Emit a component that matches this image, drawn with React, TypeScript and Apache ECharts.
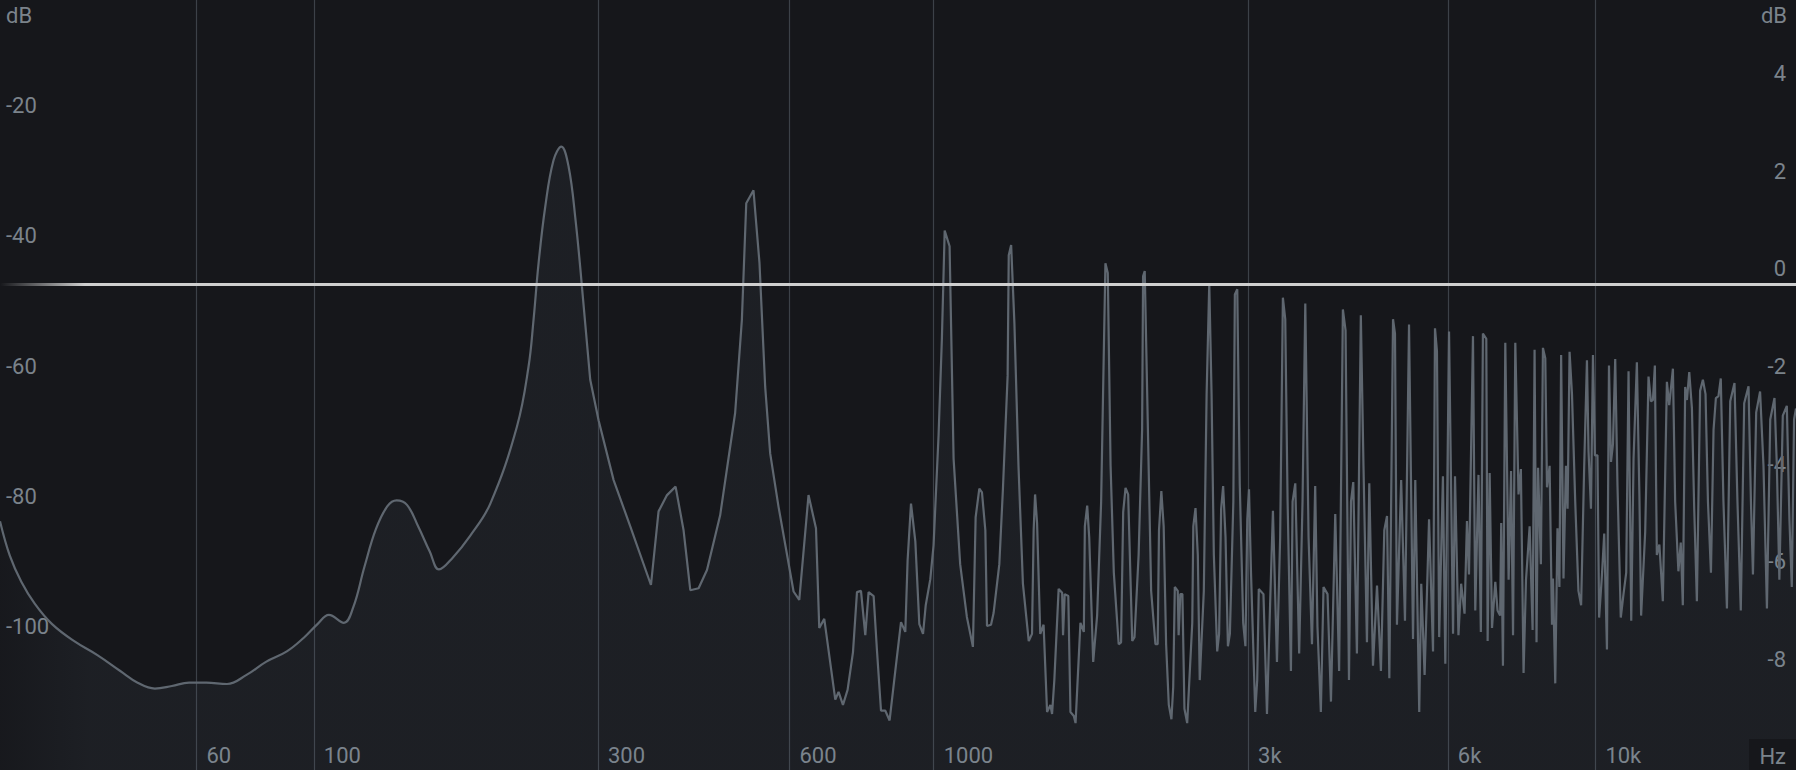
import { useEffect, useRef } from "react"
import * as echarts from "echarts"

// spectrum analyser, frequency axis is log10(f + 20)
const FREQ_OFFSET = 20
const MIN_HZ = 20.6
const MAX_HZ = 20010

// vertical grid lines
const gridHz = [60, 100, 300, 600, 1000, 3000, 6000, 10000]
const gridLabels = ["60", "100", "300", "600", "1000", "3k", "6k", "10k"]

// left axis (spectrum level) and right axis (gain)
const levelTicks = [-100, -80, -60, -40, -20]
const gainTicks = [-8, -6, -4, -2, 0, 2, 4]

// low band, drawn smooth
const lowBandHz = [
  20.6, 22.0, 23.7, 25.8, 28.6, 32.6, 36.9, 41.5, 45.3, 49.3, 53.5, 58.0, 62.8, 68.9, 75.1,
  81.7, 89.3, 95.9, 101.5, 106.4, 113.1, 117.5, 122.9, 128.7, 134.7, 139.7, 145.5, 152.2,
  159.1, 164.8, 173.8, 185.7, 200.7, 221.9, 231.8, 236.2, 240.7, 246.8, 254.5, 262.0, 269.2,
  276.2, 282.8,
]
const lowBandDb = [
  -83.8, -89.1, -93.1, -96.5, -99.6, -102.3, -104.4, -106.8, -108.6, -109.5, -109.1, -108.6,
  -108.6, -108.8, -107.4, -105.4, -103.8, -101.7, -99.6, -98.2, -99.4, -97.0, -90.8, -85.0,
  -81.5, -80.6, -81.3, -84.7, -88.5, -91.2, -89.4, -86.1, -81.1, -69.3, -60.1, -52.9, -44.2,
  -35.5, -28.4, -26.3, -29.4, -37.6, -47.8,
]

// rest of the spectrum, straight segments
const highBandHz = [
  282.8, 291.6, 300.7, 317.8, 337.8, 364.3, 374.5, 386.2, 398.4, 410.1, 420.2, 433, 446.3,
  468.0, 493.9, 506, 514, 527.5, 539, 550.1, 560, 577, 608.8, 621.3, 642.1, 659.4, 667.1,
  679.1, 706.2, 714.5, 725.7, 737.7, 752, 762.7, 773.6, 785.5, 794.7, 809, 818.7, 830.4, 843.2,
  856, 873.4, 891.2, 904.8, 912.2, 923.2, 937.4, 950.7, 963.2, 972.4, 988.2, 999.6, 1017.3,
  1029.4, 1039.5, 1057.6, 1072.6, 1097.7, 1123.9, 1148, 1159, 1174.1, 1185.2, 1199.2, 1206.2,
  1223.3, 1234.4, 1259.5, 1275.6, 1296.7, 1301.8, 1312.8, 1327.9, 1347, 1368.1, 1396.3,
  1412.4, 1420.5, 1427.6, 1437.7, 1453.8, 1470.8, 1488.9, 1506.1, 1515.1, 1527.1, 1550.3,
  1569.4, 1574.4, 1583.5, 1603.6, 1615.7, 1634.8, 1644.8, 1673, 1693, 1699, 1713.1, 1725.2,
  1749.3, 1773.4, 1798.5, 1814.6, 1825.6, 1840.7, 1858.8, 1879.9, 1912.1, 1928.2, 1942.3,
  1958.3, 1976.4, 2004.5, 2020.6, 2049.7, 2074.8, 2081.8, 2093.9, 2112, 2141.2, 2173.4,
  2190.5, 2200.6, 2218.7, 2236.8, 2255.9, 2277.1, 2298.1, 2312.2, 2325.2, 2349.3, 2356.3,
  2370.4, 2387.5, 2404.6, 2427.7, 2470.9, 2479.9, 2499, 2519.1, 2536.1, 2572.3, 2597.4,
  2621.5, 2642.6, 2663.7, 2694.9, 2712.9, 2732, 2751.1, 2774.2, 2797.3, 2816.4, 2850.5,
  2865.5, 2889.6, 2914.7, 2949.8, 2972.9, 2992, 3010, 3031, 3076, 3097, 3114, 3165, 3204,
  3241, 3271, 3317, 3354, 3386, 3414, 3442, 3482, 3502, 3535, 3583, 3625, 3660, 3702, 3746,
  3788, 3818, 3863, 3899, 3954, 4001, 4061, 4116, 4170, 4209, 4259, 4289, 4323, 4378, 4438,
  4479, 4533, 4570, 4629, 4694, 4758, 4814, 4860, 4899, 4962, 4996, 5030, 5104, 5172, 5245,
  5318, 5360, 5434, 5472, 5536, 5622, 5700, 5739, 5778, 5823, 5899, 5948, 6025, 6109, 6151,
  6225, 6283, 6358, 6411, 6456, 6546, 6598, 6672, 6727, 6775, 6855, 6887, 6935, 6992, 7072,
  7127, 7192, 7218, 7262, 7321, 7406, 7468, 7520, 7579, 7664, 7727, 7799, 7865, 7965, 8047,
  8102, 8157, 8201, 8281, 8340, 8408, 8458, 8535, 8605, 8635, 8703, 8770, 8829, 8882, 8955,
  9031, 9082, 9145, 9222, 9326, 9430, 9518, 9620, 9712, 9766, 9848, 9916, 9984, 10072, 10130,
  10226, 10310, 10408, 10481, 10554, 10626, 10710, 10794, 10918, 11021, 11125, 11215, 11320,
  11411, 11543, 11644, 11713, 11880, 12017, 12117, 12201, 12284, 12368, 12477, 12627, 12806,
  12909, 13075, 13177, 13325, 13435, 13531, 13642, 13724, 13835, 13964, 14075, 14205, 14364,
  14503, 14636, 14759, 14913, 15047, 15170, 15304, 15429, 15572, 15760, 15941, 16178, 16344,
  16533, 16729, 16982, 17124, 17243, 17437, 17674, 17883, 18097, 18305, 18576, 18728, 18892,
  19117, 19386, 19560, 19721, 19876, 20010,
]
const highBandDb = [
  -47.8, -62.1, -68.3, -77.5, -84.6, -93.6, -82.3, -79.8, -78.5, -85.2, -94.4, -94.1, -91.3,
  -82.9, -67.2, -52.9, -35.0, -33.0, -44.2, -63.2, -73.4, -81.6, -94.6, -95.9, -79.8, -84.9,
  -100.2, -98.8, -111.2, -110.0, -112.0, -109.7, -103.9, -94.7, -94.5, -101.3, -94.7, -95.3,
  -103.7, -112.9, -112.9, -114.4, -106.8, -99.3, -100.8, -89.8, -81.1, -86.9, -99.6, -101.1,
  -96.7, -92.7, -87.5, -70.7, -55.7, -39.2, -41.6, -74.2, -90.4, -98.5, -103.1, -83.2, -78.8,
  -79.4, -85.2, -99.9, -99.7, -97.9, -90.4, -78.8, -61.5, -43.0, -41.4, -53.4, -75.3, -93.4,
  -102.2, -101.1, -85.2, -79.7, -84.1, -101.1, -99.7, -113.1, -112.0, -113.4, -108.2, -94.2,
  -94.8, -101.3, -95.0, -95.3, -113.1, -113.7, -114.8, -99.4, -100.8, -84.6, -81.4, -86.3,
  -105.4, -98.3, -80.8, -58.8, -44.2, -45.7, -75.3, -91.7, -102.7, -102.4, -82.4, -78.7, -79.7,
  -102.2, -101.6, -89.0, -69.8, -46.2, -45.4, -64.3, -94.5, -102.7, -102.7, -85.2, -79.2,
  -84.6, -102.7, -112.0, -114.2, -109.3, -93.9, -94.5, -101.3, -95.0, -95.0, -112.6, -114.8,
  -99.4, -84.6, -81.8, -89.0, -108.2, -94.5, -64.3, -47.3, -64.3, -89.0, -103.8, -101.1, -81.9,
  -78.4, -86.3, -103.0, -101.1, -80.8, -49.0, -48.2, -78.0, -99.4, -103.0, -83.5, -78.9, -91.7,
  -113.1, -108.2, -94.2, -95.0, -113.4, -95.6, -82.2, -105.4, -86.3, -49.5, -52.8, -80.8,
  -106.8, -80.8, -78.0, -104.1, -80.8, -50.4, -86.3, -102.7, -78.4, -100.0, -113.1, -93.9,
  -95.0, -111.5, -82.7, -106.8, -51.3, -54.5, -108.2, -80.8, -77.8, -104.1, -52.2, -75.3,
  -102.4, -78.0, -106.0, -93.7, -106.8, -85.2, -83.0, -107.9, -52.8, -55.0, -99.7, -77.5,
  -99.1, -53.6, -101.9, -77.5, -113.1, -93.4, -107.4, -83.5, -103.8, -54.2, -57.7, -101.6,
  -76.9, -105.7, -54.7, -101.1, -76.9, -101.3, -93.4, -98.0, -83.8, -92.0, -55.4, -97.5, -76.7,
  -100.8, -55.0, -55.8, -102.2, -76.4, -100.2, -93.1, -97.5, -98.3, -84.1, -106.0, -56.4,
  -92.8, -76.1, -101.3, -56.4, -79.7, -75.8, -107.1, -92.8, -84.6, -100.5, -57.5, -102.4,
  -75.6, -90.4, -57.2, -58.8, -78.6, -75.3, -99.7, -92.6, -108.7, -84.9, -93.9, -58.3, -92.6,
  -75.3, -81.9, -57.8, -64.3, -80.8, -94.5, -96.7, -75.3, -59.1, -73.1, -81.9, -58.3, -73.7,
  -73.7, -98.6, -92.3, -85.7, -103.5, -59.9, -74.7, -72.0, -58.9, -78.3, -98.6, -95.0, -91.7,
  -60.8, -99.1, -74.2, -59.4, -79.7, -98.3, -85.4, -61.6, -65.4, -65.2, -59.9, -89.0, -87.4,
  -96.1, -62.4, -66.0, -60.4, -80.8, -91.5, -87.1, -96.7, -63.2, -65.2, -60.9, -66.5, -81.9,
  -96.1, -63.8, -62.1, -64.3, -80.8, -91.7, -69.8, -64.9, -64.6, -61.9, -80.8, -97.2, -65.4,
  -62.6, -80.8, -97.5, -65.7, -63.1, -80.8, -92.0, -67.1, -63.9, -75.3, -97.2, -68.2, -64.9,
  -75.3, -92.8, -67.6, -66.1, -83.5, -93.9, -68.2, -66.5,
]

const warp = (f: number) => Math.log10(f + FREQ_OFFSET)

const LABEL_COLOR = "#7b838b"
const FONT = "Roboto"

export default function App() {
  const chartRef = useRef<HTMLDivElement>(null)

  useEffect(() => {
    if (!chartRef.current) return
    document.body.style.margin = "0"

    const chart = echarts.init(chartRef.current, null, { renderer: "svg" })

    const areaFill = new echarts.graphic.LinearGradient(
      0, 0, 90, 0,
      [
        { offset: 0, color: "rgba(120,140,160,0.02)" },
        { offset: 1, color: "rgba(120,140,160,0.1)" },
      ],
      true
    )
    const zeroLine = new echarts.graphic.LinearGradient(
      0, 0, 85, 0,
      [
        { offset: 0, color: "rgba(205,205,205,0)" },
        { offset: 1, color: "#cfcfcf" },
      ],
      true
    )

    const lineStyle = { color: "#5f6770", width: 2.2 }

    const labelFor = (v: number) => {
      const i = gridHz.findIndex((f) => Math.abs(warp(f) - v) < 1e-6)
      return i >= 0 ? gridLabels[i] : ""
    }

    chart.setOption({
      animation: false,
      backgroundColor: "#16171b",
      textStyle: { fontFamily: FONT },
      grid: { left: 0, right: 0, top: 0, bottom: 0, containLabel: false },
      xAxis: {
        type: "value",
        min: warp(MIN_HZ),
        max: warp(MAX_HZ),
        axisLine: { show: false },
        axisTick: { show: false, customValues: gridHz.map(warp) },
        axisLabel: {
          customValues: gridHz.map(warp),
          inside: true,
          margin: 4,
          align: "left",
          verticalAlign: "bottom",
          padding: [0, 0, 0, 10],
          color: LABEL_COLOR,
          fontSize: 22,
          fontFamily: FONT,
          formatter: labelFor,
        },
        splitLine: { show: true, lineStyle: { color: "#3c4148", width: 1.2 } },
      },
      yAxis: [
        {
          type: "value",
          position: "left",
          min: -122,
          max: -3.8,
          axisLine: { show: false },
          axisTick: { show: false },
          splitLine: { show: false },
          axisLabel: {
            customValues: levelTicks,
            inside: true,
            margin: 6,
            verticalAlign: "middle",
            color: LABEL_COLOR,
            fontSize: 22,
            fontFamily: FONT,
          },
        },
        {
          type: "value",
          position: "right",
          min: -9.96,
          max: 5.82,
          axisLine: { show: false },
          axisTick: { show: false },
          splitLine: { show: false },
          axisLabel: {
            customValues: gainTicks,
            inside: true,
            margin: 10,
            verticalAlign: "bottom",
            padding: [0, 0, 4, 0],
            color: LABEL_COLOR,
            fontSize: 22,
            fontFamily: FONT,
          },
        },
      ],
      series: [
        {
          type: "line",
          data: lowBandHz.map((f, i) => [warp(f), lowBandDb[i]]),
          smooth: 0.4,
          symbol: "none",
          lineStyle,
          areaStyle: { origin: "start", color: areaFill },
          z: 2,
        },
        {
          type: "line",
          data: highBandHz.map((f, i) => [warp(f), highBandDb[i]]),
          symbol: "none",
          lineStyle,
          areaStyle: { origin: "start", color: areaFill },
          z: 2,
        },
        {
          type: "line",
          yAxisIndex: 1,
          data: [],
          symbol: "none",
          z: 5,
          markLine: {
            silent: true,
            symbol: ["none", "none"],
            label: { show: false },
            emphasis: { disabled: true },
            lineStyle: { color: zeroLine, width: 3, type: "solid" },
            data: [{ yAxis: 0 }],
          },
        },
      ],
      graphic: [
        {
          type: "text",
          left: 6,
          top: 4,
          z: 10,
          style: { text: "dB", fill: LABEL_COLOR, fontSize: 22, fontFamily: FONT },
        },
        {
          type: "text",
          right: 9,
          top: 4,
          z: 10,
          style: { text: "dB", fill: LABEL_COLOR, fontSize: 22, fontFamily: FONT },
        },
        {
          type: "rect",
          right: 0,
          bottom: 0,
          z: 10,
          shape: { width: 47, height: 31 },
          style: { fill: "#16171b" },
        },
        {
          type: "text",
          right: 10,
          bottom: 3,
          z: 11,
          style: { text: "Hz", fill: LABEL_COLOR, fontSize: 22, fontFamily: FONT },
        },
      ],
    })

    return () => {
      chart.dispose()
    }
  }, [])

  return <div ref={chartRef} style={{ width: 1796, height: 770 }} />
}
